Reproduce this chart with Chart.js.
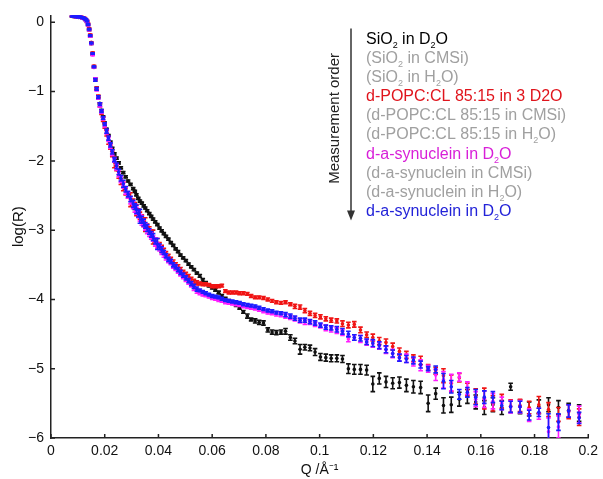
<!DOCTYPE html>
<html>
<head>
<meta charset="utf-8">
<script src="https://cdn.jsdelivr.net/npm/chart.js@4.4.1/dist/chart.umd.min.js"></script>
<style>
    html, body { margin: 0; padding: 0; background: #fff; }
    #wrap { width: 603px; height: 479px; }
</style>
</head>
<body>
<div id="wrap"><canvas id="refl-chart"></canvas></div>
<script>
// Q grid (1/Å), shared by all measurements
let qValues = [
    0.0078, 0.0082, 0.0086, 0.0090, 0.0094, 0.0098, 0.0102, 0.0106, 0.0110, 0.0114,
    0.0118, 0.0122, 0.0126, 0.0130, 0.0134, 0.0138, 0.0142, 0.0146, 0.0150, 0.0155,
    0.0160, 0.0165, 0.0170, 0.0176, 0.0182, 0.0188, 0.0194, 0.0200, 0.0207, 0.0214,
    0.0221, 0.0228, 0.0236, 0.0244, 0.0252, 0.0260, 0.0269, 0.0278, 0.0287, 0.0296,
    0.0306, 0.0312, 0.0318, 0.0325, 0.0331, 0.0338, 0.0345, 0.0351, 0.0358, 0.0366,
    0.0373, 0.0380, 0.0388, 0.0396, 0.0404, 0.0412, 0.0420, 0.0428, 0.0437, 0.0446,
    0.0455, 0.0464, 0.0473, 0.0482, 0.0492, 0.0502, 0.0512, 0.0522, 0.0532, 0.0543,
    0.0554, 0.0565, 0.0576, 0.0588, 0.0600, 0.0612, 0.0624, 0.0636, 0.0649, 0.0662,
    0.0675, 0.0689, 0.0702, 0.0716, 0.0731, 0.0745, 0.0760, 0.0775, 0.0791, 0.0807,
    0.0823, 0.0839, 0.0856, 0.0873, 0.0891, 0.0908, 0.0927, 0.0945, 0.0964, 0.0983,
    0.1003, 0.1023, 0.1043, 0.1064, 0.1085, 0.1107, 0.1129, 0.1152, 0.1175, 0.1198,
    0.1222, 0.1247, 0.1272, 0.1297, 0.1323, 0.1349, 0.1376, 0.1404, 0.1432, 0.1461,
    0.1490, 0.1520, 0.1550, 0.1581, 0.1613, 0.1645, 0.1678, 0.1711, 0.1746, 0.1780,
    0.1816, 0.1852, 0.1889, 0.1927, 0.1966
];

// log(R) values
let sio2D2O = [
    0.09, 0.09, 0.08, 0.09, 0.08, 0.08, 0.07, 0.08, 0.07, 0.07,
    0.06, 0.06, 0.05, 0.03, 0.01, -0.04, -0.11, -0.20, -0.31, -0.46,
    -0.65, -0.83, -0.96, -1.07, -1.17, -1.27, -1.36, -1.45, -1.54, -1.63,
    -1.73, -1.82, -1.90, -1.96, -2.03, -2.10, -2.17, -2.23, -2.29, -2.34,
    -2.40, -2.44, -2.49, -2.54, -2.58, -2.61, -2.65, -2.68, -2.72, -2.76,
    -2.80, -2.84, -2.88, -2.92, -2.97, -3.01, -3.05, -3.09, -3.13, -3.18,
    -3.22, -3.27, -3.31, -3.36, -3.40, -3.44, -3.49, -3.53, -3.57, -3.62,
    -3.66, -3.72, -3.76, -3.80, -3.83, -3.86, -3.90, -3.95, -3.99, -4.02,
    -4.05, -4.08, -4.12, -4.18, -4.24, -4.29, -4.31, -4.33, -4.34, -4.44,
    -4.47, -4.48, -4.47, -4.46, -4.55, -4.60, -4.72, -4.69, -4.70, -4.76,
    -4.83, -4.84, -4.85, -4.85, -4.86, -5.00, -5.01, -5.01, -5.02, -5.22,
    -5.14, -5.19, -5.21, -5.20, -5.24, -5.26, -5.27, -5.50, -5.36, -5.53,
    -5.52, -5.44, -5.40, -5.48, -5.56, -5.52, -5.56, -5.26, -5.55, -5.58,
    -5.55, -5.52, -5.56, -5.60, -5.64
];
let popcD2O = [
    0.09, 0.10, 0.09, 0.09, 0.08, 0.09, 0.08, 0.08, 0.07, 0.08,
    0.07, 0.06, 0.06, 0.04, 0.02, -0.02, -0.09, -0.18, -0.29, -0.44,
    -0.63, -0.82, -0.95, -1.07, -1.19, -1.30, -1.40, -1.50, -1.60, -1.70,
    -1.80, -1.90, -2.02, -2.10, -2.20, -2.30, -2.37, -2.44, -2.50, -2.56,
    -2.60, -2.65, -2.71, -2.74, -2.79, -2.84, -2.90, -2.92, -2.96, -3.00,
    -3.05, -3.10, -3.15, -3.19, -3.22, -3.27, -3.30, -3.34, -3.38, -3.42,
    -3.46, -3.50, -3.53, -3.57, -3.61, -3.64, -3.67, -3.71, -3.74, -3.76,
    -3.77, -3.78, -3.78, -3.79, -3.81, -3.81, -3.81, -3.80, -3.88, -3.90,
    -3.90, -3.90, -3.91, -3.91, -3.92, -3.95, -3.97, -3.97, -3.98, -4.00,
    -4.02, -4.04, -4.05, -4.04, -4.07, -4.10, -4.11, -4.16, -4.20, -4.23,
    -4.25, -4.28, -4.30, -4.31, -4.35, -4.37, -4.36, -4.44, -4.51, -4.55,
    -4.60, -4.62, -4.68, -4.75, -4.80, -4.85, -4.88, -4.98, -5.03, -5.10,
    -5.21, -5.13, -5.30, -5.40, -5.43, -5.50, -5.47, -5.54, -5.53, -5.56,
    -5.52, -5.59, -5.66, -5.62, -5.70
];
let synD2OFirst = [
    0.10, 0.09, 0.09, 0.08, 0.09, 0.08, 0.08, 0.07, 0.08, 0.07,
    0.06, 0.06, 0.05, 0.03, 0.01, -0.04, -0.11, -0.20, -0.31, -0.47,
    -0.65, -0.82, -0.97, -1.09, -1.19, -1.29, -1.39, -1.48, -1.58, -1.69,
    -1.79, -1.88, -1.99, -2.09, -2.18, -2.27, -2.35, -2.43, -2.50, -2.57,
    -2.64, -2.68, -2.72, -2.77, -2.82, -2.86, -2.90, -2.95, -2.99, -3.04,
    -3.08, -3.12, -3.17, -3.22, -3.26, -3.30, -3.35, -3.39, -3.43, -3.47,
    -3.52, -3.55, -3.59, -3.63, -3.67, -3.71, -3.75, -3.79, -3.84, -3.88,
    -3.90, -3.93, -3.94, -3.96, -3.98, -3.99, -4.01, -4.02, -4.04, -4.05,
    -4.06, -4.07, -4.08, -4.10, -4.11, -4.12, -4.13, -4.15, -4.17, -4.19,
    -4.20, -4.21, -4.22, -4.24, -4.26, -4.28, -4.31, -4.32, -4.33, -4.36,
    -4.38, -4.41, -4.43, -4.45, -4.48, -4.57, -4.55, -4.57, -4.62, -4.64,
    -4.67, -4.73, -4.78, -4.84, -4.85, -4.90, -4.95, -5.00, -5.09, -5.16,
    -5.20, -5.12, -5.28, -5.44, -5.44, -5.47, -5.50, -5.55, -5.55, -5.67,
    -5.65, -5.91, -5.84, -5.61, -5.66
];
let synD2OLast = [
    0.09, 0.09, 0.09, 0.09, 0.08, 0.08, 0.08, 0.08, 0.08, 0.07,
    0.07, 0.06, 0.05, 0.04, 0.02, -0.03, -0.10, -0.19, -0.30, -0.45,
    -0.64, -0.83, -0.96, -1.08, -1.18, -1.28, -1.38, -1.47, -1.57, -1.67,
    -1.77, -1.87, -1.98, -2.07, -2.16, -2.25, -2.33, -2.41, -2.48, -2.55,
    -2.62, -2.66, -2.70, -2.76, -2.80, -2.85, -2.89, -2.93, -2.97, -3.02,
    -3.06, -3.10, -3.16, -3.20, -3.24, -3.28, -3.32, -3.37, -3.42, -3.45,
    -3.50, -3.53, -3.57, -3.61, -3.65, -3.69, -3.73, -3.77, -3.81, -3.85,
    -3.87, -3.89, -3.91, -3.93, -3.95, -3.96, -3.97, -3.99, -4.01, -4.02,
    -4.03, -4.04, -4.05, -4.07, -4.08, -4.09, -4.10, -4.12, -4.14, -4.16,
    -4.17, -4.19, -4.20, -4.22, -4.24, -4.27, -4.30, -4.30, -4.32, -4.34,
    -4.37, -4.40, -4.41, -4.43, -4.46, -4.50, -4.55, -4.56, -4.61, -4.63,
    -4.66, -4.72, -4.78, -4.84, -4.86, -4.88, -4.94, -5.00, -5.01, -5.18,
    -5.26, -5.37, -5.34, -5.41, -5.41, -5.41, -5.53, -5.55, -5.55, -5.67,
    -5.63, -5.85, -5.77, -5.61, -5.71
];

// error bar half-lengths (log units)
let sio2Err = [
    0.01, 0.01, 0.01, 0.01, 0.01, 0.01, 0.01, 0.01, 0.01, 0.01,
    0.01, 0.01, 0.01, 0.01, 0.01, 0.01, 0.01, 0.01, 0.01, 0.01,
    0.01, 0.01, 0.01, 0.01, 0.01, 0.01, 0.01, 0.01, 0.01, 0.01,
    0.015, 0.015, 0.015, 0.015, 0.015, 0.015, 0.015, 0.015, 0.015, 0.015,
    0.015, 0.015, 0.015, 0.015, 0.015, 0.015, 0.015, 0.015, 0.015, 0.015,
    0.015, 0.015, 0.015, 0.015, 0.015, 0.015, 0.015, 0.015, 0.015, 0.015,
    0.015, 0.015, 0.015, 0.015, 0.015, 0.015, 0.015, 0.015, 0.015, 0.015,
    0.02, 0.02, 0.02, 0.02, 0.02, 0.02, 0.02, 0.02, 0.02, 0.02,
    0.02, 0.02, 0.02, 0.02, 0.03, 0.02, 0.03, 0.03, 0.03, 0.03,
    0.03, 0.03, 0.03, 0.04, 0.04, 0.04, 0.07, 0.04, 0.04, 0.05,
    0.05, 0.05, 0.05, 0.05, 0.05, 0.07, 0.07, 0.07, 0.07, 0.11,
    0.08, 0.08, 0.08, 0.08, 0.09, 0.09, 0.09, 0.12, 0.08, 0.11,
    0.11, 0.10, 0.10, 0.10, 0.10, 0.10, 0.10, 0.05, 0.10, 0.10,
    0.10, 0.10, 0.10, 0.10, 0.12
];
let popcErr = [
    0.01, 0.01, 0.01, 0.01, 0.01, 0.01, 0.01, 0.01, 0.01, 0.01,
    0.01, 0.01, 0.01, 0.01, 0.01, 0.01, 0.01, 0.01, 0.01, 0.01,
    0.01, 0.02, 0.02, 0.02, 0.03, 0.03, 0.03, 0.03, 0.04, 0.06,
    0.03, 0.04, 0.08, 0.04, 0.05, 0.04, 0.06, 0.05, 0.04, 0.10,
    0.05, 0.05, 0.08, 0.05, 0.05, 0.06, 0.05, 0.10, 0.05, 0.05,
    0.05, 0.10, 0.04, 0.07, 0.04, 0.05, 0.04, 0.03, 0.03, 0.03,
    0.03, 0.03, 0.03, 0.03, 0.03, 0.03, 0.03, 0.03, 0.03, 0.03,
    0.02, 0.02, 0.02, 0.02, 0.02, 0.02, 0.02, 0.02, 0.02, 0.02,
    0.02, 0.02, 0.02, 0.02, 0.02, 0.02, 0.02, 0.02, 0.02, 0.02,
    0.02, 0.02, 0.02, 0.02, 0.02, 0.03, 0.03, 0.03, 0.03, 0.03,
    0.03, 0.03, 0.03, 0.03, 0.04, 0.04, 0.04, 0.04, 0.04, 0.05,
    0.05, 0.05, 0.05, 0.05, 0.05, 0.05, 0.06, 0.04, 0.05, 0.10,
    0.12, 0.06, 0.09, 0.11, 0.15, 0.11, 0.10, 0.09, 0.09, 0.09,
    0.12, 0.10, 0.10, 0.10, 0.12
];
let synFirstErr = [
    0.01, 0.01, 0.01, 0.01, 0.01, 0.01, 0.01, 0.01, 0.01, 0.01,
    0.01, 0.01, 0.01, 0.01, 0.01, 0.01, 0.01, 0.01, 0.01, 0.01,
    0.01, 0.02, 0.02, 0.02, 0.03, 0.02, 0.02, 0.03, 0.03, 0.03,
    0.03, 0.04, 0.03, 0.04, 0.05, 0.04, 0.04, 0.05, 0.04, 0.05,
    0.05, 0.06, 0.05, 0.05, 0.05, 0.07, 0.05, 0.05, 0.06, 0.05,
    0.05, 0.04, 0.06, 0.04, 0.04, 0.05, 0.04, 0.04, 0.04, 0.03,
    0.03, 0.03, 0.03, 0.03, 0.03, 0.03, 0.03, 0.03, 0.03, 0.03,
    0.03, 0.02, 0.02, 0.02, 0.02, 0.02, 0.02, 0.02, 0.02, 0.02,
    0.02, 0.02, 0.02, 0.02, 0.02, 0.02, 0.02, 0.02, 0.02, 0.02,
    0.02, 0.03, 0.03, 0.03, 0.03, 0.03, 0.03, 0.04, 0.03, 0.03,
    0.03, 0.04, 0.04, 0.04, 0.04, 0.04, 0.04, 0.05, 0.04, 0.05,
    0.05, 0.05, 0.06, 0.05, 0.06, 0.06, 0.08, 0.05, 0.08, 0.12,
    0.12, 0.06, 0.09, 0.11, 0.12, 0.11, 0.09, 0.09, 0.09, 0.09,
    0.08, 0.20, 0.16, 0.09, 0.12
];
let synLastErr = [
    0.01, 0.01, 0.01, 0.01, 0.01, 0.01, 0.01, 0.01, 0.01, 0.01,
    0.01, 0.01, 0.01, 0.01, 0.01, 0.01, 0.01, 0.01, 0.01, 0.01,
    0.01, 0.02, 0.02, 0.02, 0.02, 0.02, 0.02, 0.02, 0.03, 0.03,
    0.03, 0.03, 0.03, 0.04, 0.04, 0.04, 0.05, 0.04, 0.04, 0.04,
    0.05, 0.04, 0.06, 0.05, 0.10, 0.05, 0.05, 0.04, 0.05, 0.04,
    0.04, 0.05, 0.04, 0.08, 0.04, 0.04, 0.03, 0.03, 0.03, 0.03,
    0.03, 0.03, 0.03, 0.03, 0.03, 0.03, 0.03, 0.03, 0.03, 0.03,
    0.02, 0.02, 0.02, 0.02, 0.02, 0.02, 0.02, 0.02, 0.02, 0.02,
    0.02, 0.02, 0.02, 0.02, 0.02, 0.02, 0.02, 0.02, 0.02, 0.02,
    0.02, 0.02, 0.02, 0.03, 0.03, 0.03, 0.03, 0.03, 0.03, 0.03,
    0.03, 0.03, 0.03, 0.04, 0.04, 0.04, 0.04, 0.04, 0.04, 0.05,
    0.05, 0.05, 0.05, 0.05, 0.05, 0.05, 0.05, 0.03, 0.05, 0.11,
    0.09, 0.07, 0.07, 0.11, 0.09, 0.08, 0.06, 0.08, 0.08, 0.07,
    0.06, 0.20, 0.12, 0.09, 0.08
];

let yTicks = [0, -1, -2, -3, -4, -5, -6];
let xTicks = [0, 0.02, 0.04, 0.06, 0.08, 0.1, 0.12, 0.14, 0.16, 0.18, 0.2];

// measurement order annotation: [text, subscript, text, subscript, ...] and colour
let orderLines = [
    [['SiO', '2', ' in D', '2', 'O'], '#000000'],
    [['(SiO', '2', ' in CMSi)'], '#a0a0a0'],
    [['(SiO', '2', ' in H', '2', 'O)'], '#a0a0a0'],
    [['d-POPC:CL 85:15 in 3 D2O'], '#e0141c'],
    [['(d-POPC:CL 85:15 in CMSi)'], '#a0a0a0'],
    [['(d-POPC:CL 85:15 in H', '2', 'O)'], '#a0a0a0'],
    [['d-a-synuclein in D', '2', 'O'], '#d81fd8'],
    [['(d-a-synuclein in CMSi)'], '#a0a0a0'],
    [['(d-a-synuclein in H', '2', 'O)'], '#a0a0a0'],
    [['d-a-synuclein in D', '2', 'O'], '#2323d8']
];

const FONT = '"Liberation Sans", Arial, sans-serif';

function buildPoints(values, errors) {
    return qValues.map((q, i) => ({x: q, y: values[i], e: errors[i]}));
}

// order: lower number is drawn on top (last measurement ends up on top)
function makeDataset(label, values, errors, color, order) {
    return {
        label: label,
        data: buildPoints(values, errors),
        borderColor: color,
        backgroundColor: color,
        pointRadius: 1.8,
        pointBorderWidth: 0,
        showLine: false,
        order: order
    };
}

const errorBars = {
    id: 'errorBars',
    afterDatasetDraw(chart, args) {
        const ds = chart.data.datasets[args.index];
        const {ctx, chartArea} = chart;
        const xs = chart.scales.x, ys = chart.scales.y;
        ctx.save();
        ctx.beginPath();
        ctx.rect(chartArea.left, chartArea.top, chartArea.width, chartArea.height);
        ctx.clip();
        ctx.strokeStyle = ds.borderColor;
        ctx.lineWidth = 1.6;
        ds.data.forEach(p => {
            const px = xs.getPixelForValue(p.x);
            const top = ys.getPixelForValue(p.y + p.e);
            const bot = ys.getPixelForValue(p.y - p.e);
            ctx.beginPath();
            ctx.moveTo(px, top);
            ctx.lineTo(px, bot);
            ctx.moveTo(px - 2.3, top);
            ctx.lineTo(px + 2.3, top);
            ctx.moveTo(px - 2.3, bot);
            ctx.lineTo(px + 2.3, bot);
            ctx.stroke();
        });
        ctx.restore();
    }
};

// inward tick marks + measurement order note
const decorations = {
    id: 'decorations',
    afterDraw(chart) {
        const {ctx, chartArea} = chart;
        const xs = chart.scales.x, ys = chart.scales.y;
        ctx.save();
        ctx.strokeStyle = '#222';
        ctx.lineWidth = 1.5;
        ctx.beginPath();
        for (const t of xTicks) {
            const px = xs.getPixelForValue(t);
            ctx.moveTo(px, chartArea.bottom);
            ctx.lineTo(px, chartArea.bottom - 4);
        }
        for (const t of yTicks) {
            const py = ys.getPixelForValue(t);
            ctx.moveTo(chartArea.left, py);
            ctx.lineTo(chartArea.left + 4, py);
        }
        ctx.stroke();

        // arrow
        const ax = chartArea.left + 300;
        const aTop = chartArea.top + 13, aBot = chartArea.top + 205;
        ctx.strokeStyle = '#333';
        ctx.fillStyle = '#333';
        ctx.lineWidth = 1.5;
        ctx.beginPath();
        ctx.moveTo(ax, aTop);
        ctx.lineTo(ax, aBot - 6);
        ctx.stroke();
        ctx.beginPath();
        ctx.moveTo(ax - 4, aBot - 10);
        ctx.lineTo(ax + 4, aBot - 10);
        ctx.lineTo(ax, aBot);
        ctx.closePath();
        ctx.fill();

        ctx.save();
        ctx.translate(ax - 16, chartArea.top + 103);
        ctx.rotate(-Math.PI / 2);
        ctx.font = '15px ' + FONT;
        ctx.fillStyle = '#222';
        ctx.textAlign = 'center';
        ctx.textBaseline = 'middle';
        ctx.fillText('Measurement order', 0, 0);
        ctx.restore();

        // text lines with subscripts
        ctx.textBaseline = 'alphabetic';
        ctx.textAlign = 'left';
        orderLines.forEach(([parts, color], i) => {
            let tx = ax + 15;
            const ty = chartArea.top + 28.5 + i * 19.1;
            ctx.fillStyle = color;
            parts.forEach((part, j) => {
                const isSub = j % 2 === 1;
                ctx.font = (isSub ? '9px ' : '16px ') + FONT;
                ctx.fillText(part, tx, ty + (isSub ? 4 : 0));
                tx += ctx.measureText(part).width;
            });
        });
        ctx.restore();
    }
};

const chart = new Chart(document.getElementById('refl-chart'), {
    type: 'scatter',
    data: {
        datasets: [
            makeDataset('SiO2 in D2O', sio2D2O, sio2Err, '#111111', 4),
            makeDataset('d-POPC:CL 85:15 in 3 D2O', popcD2O, popcErr, '#f01414', 3),
            makeDataset('d-a-synuclein in D2O', synD2OFirst, synFirstErr, '#ff1cff', 2),
            makeDataset('d-a-synuclein in D2O (2)', synD2OLast, synLastErr, '#1c1cff', 1)
        ]
    },
    options: {
        responsive: true,
        maintainAspectRatio: false,
        animation: false,
        layout: {
            padding: {left: 0, right: 8, top: 12, bottom: 0}
        },
        plugins: {
            legend: {display: false},
            tooltip: {enabled: false}
        },
        scales: {
            x: {
                type: 'linear',
                min: 0,
                max: 0.2,
                afterFit: (scale) => { scale.height = 41; },
                afterBuildTicks: (scale) => { scale.ticks = xTicks.map(v => ({value: v})); },
                grid: {display: true, drawOnChartArea: false, drawTicks: false},
                border: {display: true, color: '#222', width: 1.5},
                ticks: {
                    color: '#111',
                    padding: 5,
                    maxRotation: 0,
                    font: {family: FONT, size: 14},
                    callback: (v) => String(+v.toFixed(2))
                },
                title: {
                    display: true,
                    text: 'Q /Å⁻¹',
                    color: '#111',
                    padding: {top: 0, bottom: 0},
                    font: {family: FONT, size: 14}
                }
            },
            y: {
                type: 'linear',
                min: -6,
                max: 0.1,
                afterFit: (scale) => { scale.width = 51; },
                afterBuildTicks: (scale) => { scale.ticks = yTicks.map(v => ({value: v})); },
                grid: {display: true, drawOnChartArea: false, drawTicks: false},
                border: {display: true, color: '#222', width: 1.5},
                ticks: {
                    color: '#111',
                    padding: 7,
                    font: {family: FONT, size: 14},
                    callback: (v) => v < 0 ? '\u2212' + Math.abs(v) : String(v)
                },
                title: {
                    display: true,
                    text: 'log(R)',
                    color: '#111',
                    padding: {top: 10, bottom: 0},
                    font: {family: FONT, size: 15}
                }
            }
        }
    },
    plugins: [errorBars, decorations]
});
</script>
</body>
</html>
